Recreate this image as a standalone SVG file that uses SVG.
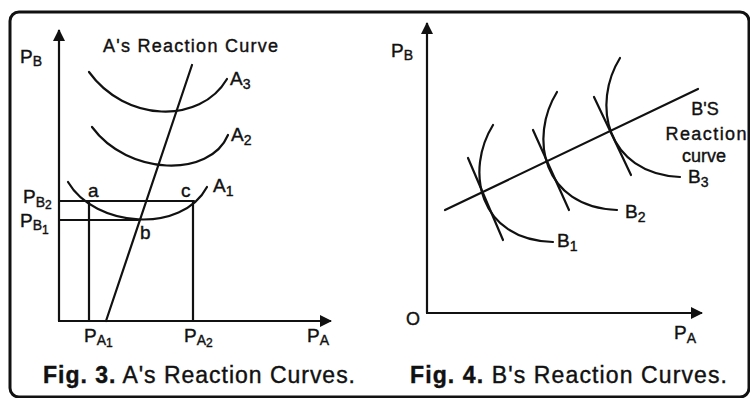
<svg xmlns="http://www.w3.org/2000/svg" width="750" height="398" viewBox="0 0 750 398">
<defs>
<style>
.ln{fill:none;stroke:#111;stroke-width:2.2;stroke-linecap:round}
.ax{fill:none;stroke:#111;stroke-width:2.2}
.t{font-family:"Liberation Sans",Arial,sans-serif;fill:#111;stroke:#111;stroke-width:0.4}
.lb{font-size:19px}
.sb{font-size:14px}
.ss{font-size:12px}
.cap{font-size:23px}
</style>
<marker id="arr" viewBox="0 0 12 12" refX="11" refY="6" markerWidth="12" markerHeight="12" markerUnits="userSpaceOnUse" orient="auto">
<path d="M0,0 L12,6 L0,12 Z" fill="#111"/>
</marker>
</defs>
<rect width="750" height="398" fill="#fff"/>
<rect x="10" y="12" width="739" height="385" rx="9" fill="none" stroke="#111" stroke-width="3"/>

<!-- Fig. 3 -->
<g id="fig3-axes">
<path class="ax" d="M59,321 L59,30" marker-end="url(#arr)"/>
<path class="ax" d="M58,321 L331,321" marker-end="url(#arr)"/>
</g>
<g id="fig3-labels">
<text class="t lb" x="20" y="63">P<tspan class="sb" dy="3">B</tspan></text>
<text class="t lb" x="84" y="342">P<tspan class="sb" dy="3">A</tspan><tspan class="ss" dy="2">1</tspan></text>
<text class="t lb" x="184" y="342">P<tspan class="sb" dy="3">A</tspan><tspan class="ss" dy="2">2</tspan></text>
<text class="t lb" x="307" y="342">P<tspan class="sb" dy="3">A</tspan></text>
<text class="t lb" x="23" y="203">P<tspan class="sb" dy="4">B</tspan><tspan class="ss" dy="2">2</tspan></text>
<text class="t lb" x="20" y="227">P<tspan class="sb" dy="3">B</tspan><tspan class="ss" dy="4">1</tspan></text>
</g>
<g id="A-reaction-curve">
<path class="ln" d="M192,65 L106,321"/>
<text class="t" x="103" y="52" font-size="18" textLength="175" lengthAdjust="spacing">A's Reaction Curve</text>
</g>
<g id="A3">
<path class="ln" d="M89,72 C125,122 200,125 227,79"/>
<text class="t lb" x="230" y="85">A<tspan class="sb" dy="4">3</tspan></text>
</g>
<g id="A2">
<path class="ln" d="M92,127 C128,176 210,178 228,135"/>
<text class="t lb" x="231" y="141">A<tspan class="sb" dy="4">2</tspan></text>
</g>
<g id="A1">
<path class="ln" d="M68,182 C95,228 182,234 207,187"/>
<text class="t lb" x="213" y="192">A<tspan class="sb" dy="4">1</tspan></text>
</g>
<g id="guides">
<path class="ln" d="M59,201 L194,201 M59,220 L138,220 M89,201 L89,321 M193,201 L193,321"/>
</g>
<g id="points">
<text class="t lb" x="88" y="197">a</text>
<text class="t lb" x="140" y="239">b</text>
<text class="t lb" x="181" y="197">c</text>
</g>
<text class="t cap" x="43" y="383" textLength="312" lengthAdjust="spacing"><tspan font-weight="bold">Fig. 3.</tspan> A's Reaction  Curves.</text>

<!-- Fig. 4 -->
<g id="fig4-axes">
<path class="ax" d="M427,313 L427,23" marker-end="url(#arr)"/>
<path class="ax" d="M426,313 L702,313" marker-end="url(#arr)"/>
</g>
<g id="fig4-labels">
<text class="t lb" x="391" y="57">P<tspan class="sb" dy="3">B</tspan></text>
<text class="t lb" x="674" y="339">P<tspan class="sb" dy="4">A</tspan></text>
<text class="t" x="406" y="325" font-size="18">O</text>
</g>
<g id="B-reaction-curve">
<path class="ln" d="M445,210 L698,89"/>
<text class="t" x="705" y="115" font-size="18" text-anchor="middle">B'S</text>
<text class="t" x="706" y="140" font-size="18" text-anchor="middle" textLength="81" lengthAdjust="spacing">Reaction</text>
<text class="t" x="704" y="162" font-size="18" text-anchor="middle">curve</text>
</g>
<g id="B1">
<path class="ln" d="M493,125 C465,170 478,240 553,242"/>
<path class="ln" d="M468,158 L503,240"/>
<text class="t lb" x="557" y="247">B<tspan class="sb" dy="4">1</tspan></text>
</g>
<g id="B2">
<path class="ln" d="M557,92 C529,137 542,207 617,210"/>
<path class="ln" d="M533,130 L569,210"/>
<text class="t lb" x="625" y="218">B<tspan class="sb" dy="4">2</tspan></text>
</g>
<g id="B3">
<path class="ln" d="M620,58 C592,103 605,173 680,177"/>
<path class="ln" d="M594,97 L631,175"/>
<text class="t lb" x="688" y="183">B<tspan class="sb" dy="4">3</tspan></text>
</g>
<text class="t cap" x="410" y="383" textLength="317" lengthAdjust="spacing"><tspan font-weight="bold">Fig. 4.</tspan> B's Reaction  Curves.</text>
</svg>
